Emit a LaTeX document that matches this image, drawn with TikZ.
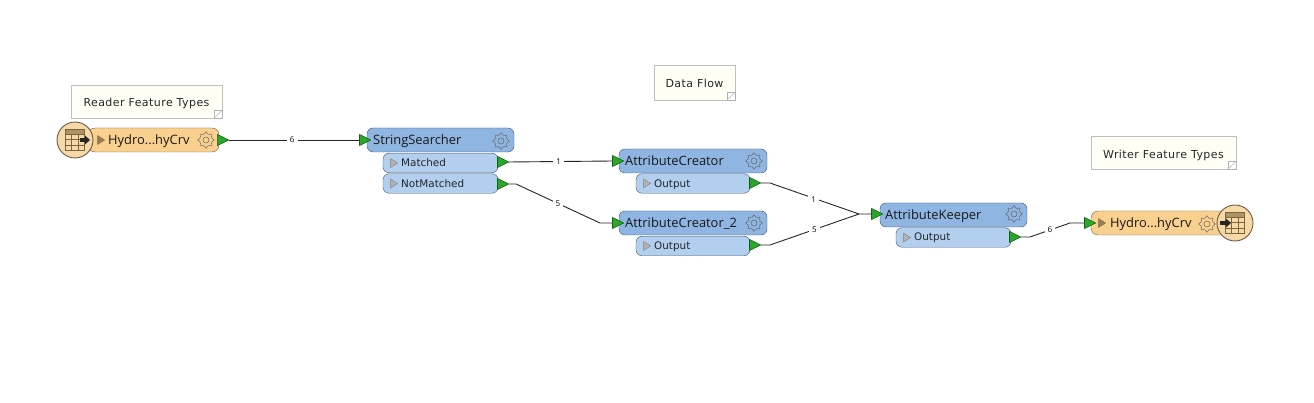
\documentclass[tikz,border=0pt]{standalone}
\usepackage{fontspec}
\setmainfont{Open Sans}
\newfontfamily\notefont{DejaVu Sans}
\newfontfamily\notewidefont[LetterSpace=4]{DejaVu Sans}
\usetikzlibrary{shapes.geometric}
\definecolor{hdrblue}{HTML}{8FB5E2}
\definecolor{portblue}{HTML}{B2CFF0}
\definecolor{edgeblue}{HTML}{3F5268}
\definecolor{ftorange}{HTML}{FAD08F}
\definecolor{ftedge}{HTML}{6B5B43}
\definecolor{discfill}{HTML}{F5D9A8}
\definecolor{gridtan}{HTML}{7D6538}
\definecolor{portgreen}{HTML}{2CA52C}
\definecolor{notefill}{HTML}{FFFFF6}
\tikzset{
	hdrbox/.style={draw=edgeblue,fill=hdrblue,rounded corners=6pt,minimum height=24pt,inner sep=0pt},
	outbox/.style={draw=edgeblue,fill=portblue,rounded corners=6pt,minimum height=19.5pt,inner sep=0pt},
	ftbox/.style={draw=ftedge,fill=ftorange,rounded corners=7pt,minimum height=24pt,inner sep=0pt},
	disc/.style={circle,draw=ftedge,line width=0.9pt,fill=discfill,minimum size=36pt,inner sep=0pt},
	notebox/.style={draw=black!25,fill=notefill,minimum height=33pt,inner sep=0pt},
	bigtxt/.style={anchor=base west,inner sep=0pt,font=\fontsize{12.9}{14}\selectfont,text=black!90},
	smalltxt/.style={anchor=base west,inner sep=0pt,font=\notefont\fontsize{10.4}{12}\selectfont,text=black!85},
	notetxt/.style={inner sep=0pt,font=\notewidefont\fontsize{11}{12}\selectfont,text=black!85},
	port/.style={isosceles triangle,isosceles triangle apex angle=53,draw=green!30!black,line width=0.3pt,fill=portgreen,minimum width=11pt,inner sep=0pt},
	playmark/.style={isosceles triangle,isosceles triangle apex angle=65,draw=black!50,fill=black!30,minimum width=8.5pt,minimum height=7pt,inner sep=0pt},
	ftplay/.style={playmark,draw=black!50!ftorange,fill=black!40!ftorange},
	link/.style={draw=black!85,line width=0.9pt},
	cnt/.style={fill=white,inner sep=3pt,font=\fontsize{8}{9}\selectfont,text=black},
	gear/.pic={
		\draw[draw=black!60,line width=0.5pt,fill=none] plot[smooth cycle,domain=0:345,samples=24] ({(7+1.3*cos(8*\x))*cos(\x)},{(7+1.3*cos(8*\x))*sin(\x)});
		\draw[draw=black!60,line width=0.5pt] (0,0) circle (3);
	},
	corner/.pic={
		\draw[black!30,fill=white] (-8,-8) rectangle (0,0);
		\draw[black!40] (-7,-1) -- (-1,-7);
	}
}
\newcommand{\tabicon}[1]{
	\fill[gridtan!60!discfill] (#1)+(-9.5,-10.5) rectangle +(9.5,-6);
	\draw[gridtan,line width=0.8pt] (#1)+(-9.5,-10.5) rectangle +(9.5,10.5);
	\foreach \gx in {-3.2,3.2}
		\draw[gridtan,line width=0.7pt] (#1)+(\gx,-6) -- +(\gx,10.5);
	\foreach \gy in {-6,-0.5,5}
		\draw[gridtan,line width=0.7pt] (#1)+(-9.5,\gy) -- +(9.5,\gy);
}
\begin{document}
\begin{tikzpicture}[x=1pt,y=-1pt]
	\useasboundingbox (0,0) rectangle (1314,403);
	% notes
	\node[notebox,minimum width=151pt] (rdnote) at (146.5,101.5) {};
	\node[notetxt] (rdnotetxt) at (146.5,103) {Reader Feature Types};
	\pic at (rdnote.south east) {corner};
	\node[notebox,minimum width=81pt,minimum height=35pt] (flownote) at (694.5,82.5) {};
	\node[notetxt] (flownotetxt) at (694.5,83) {Data Flow};
	\pic at (flownote.south east) {corner};
	\node[notebox,minimum width=145pt] (wrnote) at (1163.5,152.5) {};
	\node[notetxt] (wrnotetxt) at (1163.5,155) {Writer Feature Types};
	\pic at (wrnote.south east) {corner};
	% reader
	\node[ftbox,minimum width=131pt] (reader) at (153.5,140) {};
	\node[disc] (rddisc) at (75,140) {};
	\tabicon{rddisc}
	\fill[black!85] (80,138) rectangle (85,142);
	\fill[black!85] (85,135.5) -- (90,140) -- (85,144.5) -- cycle;
	\node[ftplay] (rdplay) at (100,140) {};
	\node[bigtxt] (rdtxt) at (108,144.5) {Hydro...hyCrv};
	\pic at (206,140) {gear};
	\node[port] (rdout) at (221,140) {};
	% string searcher
	\node[hdrbox,minimum width=147pt] (searcher) at (440.5,140) {};
	\node[bigtxt] (searchertxt) at (373,144.5) {StringSearcher};
	\pic at (501,141) {gear};
	\node[outbox,minimum width=115pt] (matched) at (440.5,163) {};
	\node[playmark] (matchedplay) at (393,163) {};
	\node[smalltxt] (matchedtxt) at (401,167) {Matched};
	\node[outbox,minimum width=115pt] (notmatched) at (440.5,183.5) {};
	\node[playmark] (notmatchedplay) at (393,183.5) {};
	\node[smalltxt] (notmatchedtxt) at (401,187.5) {NotMatched};
	\node[port] (searchin) at (363,140) {};
	\node[port] (matchedout) at (501,162) {};
	\node[port] (notmatchedout) at (501,184) {};
	% attribute creators
	\node[hdrbox,minimum width=148pt] (creator) at (693,161) {};
	\node[bigtxt] (creatortxt) at (625,165.5) {AttributeCreator};
	\pic at (754,161) {gear};
	\node[outbox,minimum width=114pt] (creatorbox) at (693,183.5) {};
	\node[playmark] (creatorplay) at (646,183.5) {};
	\node[smalltxt] (creatorouttxt) at (654,187.5) {Output};
	\node[port] (creatorin) at (616,161) {};
	\node[port] (creatorout) at (753,183) {};
	\node[hdrbox,minimum width=148pt] (creatorb) at (693,223) {};
	\node[bigtxt] (creatorbtxt) at (625,227.5) {AttributeCreator\_2};
	\pic at (754,223) {gear};
	\node[outbox,minimum width=114pt] (creatorbbox) at (693,246) {};
	\node[playmark] (creatorbplay) at (646,246) {};
	\node[smalltxt] (creatorbouttxt) at (654,250) {Output};
	\node[port] (creatorbin) at (616,223) {};
	\node[port] (creatorbout) at (753,245) {};
	% keeper
	\node[hdrbox,minimum width=147pt] (keeper) at (953.5,215) {};
	\node[bigtxt] (keepertxt) at (885,219.5) {AttributeKeeper};
	\pic at (1014,214) {gear};
	\node[outbox,minimum width=115pt] (keeperbox) at (953.5,237.5) {};
	\node[playmark] (keeperplay) at (906,237.5) {};
	\node[smalltxt] (keeperouttxt) at (914,241) {Output};
	\node[port] (keeperin) at (875,214) {};
	\node[port] (keeperout) at (1013,237) {};
	% writer
	\node[ftbox,minimum width=137pt] (writer) at (1159.5,223) {};
	\node[disc] (wrdisc) at (1235,223) {};
	\tabicon{wrdisc}
	\fill[black!85] (1220,221) rectangle (1226,225);
	\fill[black!85] (1226,218.5) -- (1231,223) -- (1226,227.5) -- cycle;
	\node[ftplay] (wrplay) at (1101,223) {};
	\node[bigtxt] (wrtxt) at (1110,227.5) {Hydro...hyCrv};
	\pic at (1207,224) {gear};
	\node[port] (wrin) at (1088,223) {};
	% links
	\coordinate (meet) at (859,214);
	\draw[link] (rdout.east) -- (searchin.west) node[cnt,pos=0.485] (cntA) {6};
	\draw[link] (matchedout.east) -- (creatorin.west) node[cnt,pos=0.48] (cntB) {1};
	\draw[link] (notmatchedout.east) -- (516,184) -- (600,223) node[cnt,midway] (cntC) {5} -- (creatorbin.west);
	\draw[link] (creatorout.east) -- (770,183) -- (meet) node[cnt,pos=0.49,yshift=-1pt] (cntD) {1} -- (keeperin.west);
	\draw[link] (creatorbout.east) -- (770,245) -- (meet) node[cnt,midway] (cntE) {5};
	\draw[link] (keeperout.east) -- (1030,237) -- (1070,223) node[cnt,midway] (cntF) {6} -- (wrin.west);
	\node[port] at (rdout) {};
	\node[port] at (searchin) {};
	\node[port] at (matchedout) {};
	\node[port] at (notmatchedout) {};
	\node[port] at (creatorin) {};
	\node[port] at (creatorbin) {};
	\node[port] at (creatorout) {};
	\node[port] at (creatorbout) {};
	\node[port] at (keeperin) {};
	\node[port] at (keeperout) {};
	\node[port] at (wrin) {};
\end{tikzpicture}
\end{document}
